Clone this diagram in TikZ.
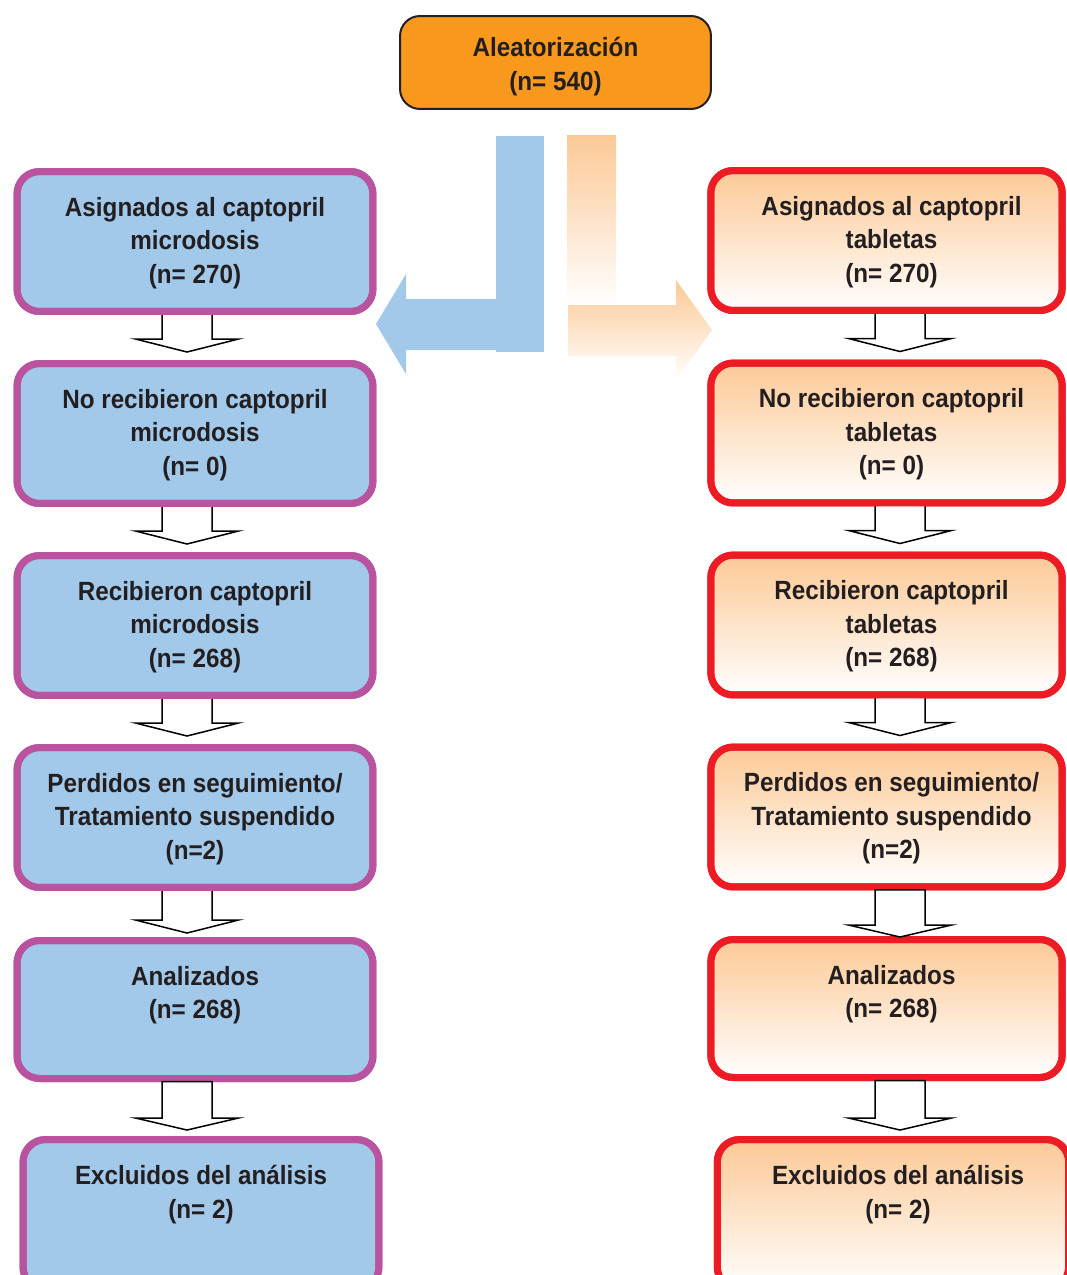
\documentclass[tikz,border=0pt]{standalone}
\usepackage{fontspec}
\setmainfont{Liberation Sans}[FakeStretch=0.92]
\usetikzlibrary{calc}

\definecolor{boxblue}{RGB}{162,200,234}
\definecolor{boxpurple}{RGB}{186,83,159}
\definecolor{boxred}{RGB}{237,28,36}
\definecolor{peach}{RGB}{252,201,150}
\definecolor{randorange}{RGB}{248,153,29}
\definecolor{inkgray}{RGB}{35,31,32}

\tikzset{
  bluebox/.style={draw=boxpurple,fill=boxblue,line width=0.14cm,rounded corners=0.45cm,minimum width=7.12cm,minimum height=2.8cm,inner sep=0pt,outer sep=0pt},
  peachbox/.style={draw=boxred,top color=peach,bottom color=white,line width=0.14cm,rounded corners=0.45cm,minimum width=7.03cm,minimum height=2.8cm,inner sep=0pt,outer sep=0pt},
  randbox/.style={draw=inkgray,fill=randorange,line width=0.04cm,rounded corners=0.4cm,minimum width=6.22cm,minimum height=1.86cm,outer sep=0pt},
  boxtext/.style={anchor=north,align=center,text=inkgray,inner sep=0pt,font=\bfseries\fontsize{15}{19}\selectfont},
  hollow/.style={draw=black,fill=white,line width=0.03cm,line join=miter}
}

% #1 upper box, #2 lower box, #3 x offset from lower box, #4 tip offset from lower box
\newcommand{\openarrow}[4]{%
  \draw[hollow] ($(#2.north |- #1.south)+(#3-25,0)$) -- ($(#2.north)+(#3-25,#4-13)$) -- ($(#2.north)+(#3-51.5,#4-13)$)
    -- ($(#2.north)+(#3,#4)$) -- ($(#2.north)+(#3+51.5,#4-13)$) -- ($(#2.north)+(#3+25,#4-13)$) -- ($(#2.north |- #1.south)+(#3+25,0)$);}
\newcommand{\closedarrow}[4]{%
  \draw[hollow] ($(#2.north |- #1.south)+(#3-25,3)$) -- ($(#2.north)+(#3-25,#4-12)$) -- ($(#2.north)+(#3-51.5,#4-12)$)
    -- ($(#2.north)+(#3,#4)$) -- ($(#2.north)+(#3+51.5,#4-12)$) -- ($(#2.north)+(#3+25,#4-12)$) -- ($(#2.north |- #1.south)+(#3+25,3)$) -- cycle;}

\begin{document}
\begin{tikzpicture}[x=0.02cm,y=-0.02cm]
    \useasboundingbox (0,0) rectangle (1067,1275);
    \clip (0,0) rectangle (1067,1275);

    \node[randbox] (rand) at (555.5,62.5) {};
    \node[boxtext] (randt) at ($(rand.north)+(0,21)$) {Aleatorización\\(n= 540)};

    \fill[boxblue] (496,136) rectangle (544,352);
    \fill[boxblue] (496,299) -- (406,299) -- (406,274) -- (376,324) -- (406,374) -- (406,350) -- (496,350) -- cycle;
    \shade[top color=peach,bottom color=white] (567,135) rectangle (616,305);
    \shade[top color=peach,bottom color=white] (568,305) -- (676,305) -- (676,280) -- (712,330) -- (676,380) -- (676,356) -- (568,356) -- cycle;

    \node[bluebox] (asigL) at (195,241.5) {};
    \node[bluebox] (norecL) at (195,433.5) {};
    \node[bluebox] (recL) at (195,625.5) {};
    \node[bluebox] (perdL) at (195,817.5) {};
    \node[bluebox,minimum height=2.76cm] (analL) at (195,1009.5) {};
    \node[bluebox,minimum height=3cm] (exclL) at (201,1214.5) {};

    \node[peachbox] (asigR) at (886.5,240.5) {};
    \node[peachbox] (norecR) at (886.5,433) {};
    \node[peachbox] (recR) at (886.5,625) {};
    \node[peachbox] (perdR) at (886.5,817) {};
    \node[peachbox,minimum height=2.76cm] (analR) at (886.5,1008.5) {};
    \node[peachbox,minimum height=3cm] (exclR) at (893,1214.5) {};

    \openarrow{asigL}{norecL}{-8}{-11.5}
    \openarrow{norecL}{recL}{-8}{-11.5}
    \openarrow{recL}{perdL}{-8}{-11.5}
    \openarrow{perdL}{analL}{-8}{-7.5}
    \openarrow{asigR}{norecR}{13.5}{-11.5}
    \openarrow{norecR}{recR}{13.5}{-11.5}
    \openarrow{recR}{perdR}{13.5}{-11.5}

    % borders again over the open arrows
    \foreach \b in {asigL,norecL,recL,perdL,analL,exclL}
        \draw[boxpurple,line width=0.14cm,rounded corners=0.45cm] (\b.north west) rectangle (\b.south east);
    \foreach \b in {asigR,norecR,recR,perdR,analR,exclR}
        \draw[boxred,line width=0.14cm,rounded corners=0.45cm] (\b.north west) rectangle (\b.south east);

    \closedarrow{perdR}{analR}{13.5}{-2.5}
    \closedarrow{analL}{exclL}{-14}{-9.5}
    \closedarrow{analR}{exclR}{7}{-9.5}

    \node[boxtext] (asigLt) at ($(asigL.north)+(0,25.5)$) {Asignados al captopril\\microdosis\\(n= 270)};
    \node[boxtext] (norecLt) at ($(norecL.north)+(0,25.5)$) {No recibieron captopril\\microdosis\\(n= 0)};
    \node[boxtext] (recLt) at ($(recL.north)+(0,25.5)$) {Recibieron captopril\\microdosis\\(n= 268)};
    \node[boxtext] (perdLt) at ($(perdL.north)+(0,25.5)$) {Perdidos en seguimiento/\\Tratamiento suspendido\\(n=2)};
    \node[boxtext] (analLt) at ($(analL.north)+(0,25.5)$) {Analizados\\(n= 268)};
    \node[boxtext] (exclLt) at ($(exclL.north)+(0,25.5)$) {Excluidos del análisis\\(n= 2)};

    \node[boxtext] (asigRt) at ($(asigR.north)+(5,25.5)$) {Asignados al captopril\\tabletas\\(n= 270)};
    \node[boxtext] (norecRt) at ($(norecR.north)+(5,25.5)$) {No recibieron captopril\\tabletas\\(n= 0)};
    \node[boxtext] (recRt) at ($(recR.north)+(5,25.5)$) {Recibieron captopril\\tabletas\\(n= 268)};
    \node[boxtext] (perdRt) at ($(perdR.north)+(5,25.5)$) {Perdidos en seguimiento/\\Tratamiento suspendido\\(n=2)};
    \node[boxtext] (analRt) at ($(analR.north)+(5,25.5)$) {Analizados\\(n= 268)};
    \node[boxtext] (exclRt) at ($(exclR.north)+(5,25.5)$) {Excluidos del análisis\\(n= 2)};
\end{tikzpicture}
\end{document}
